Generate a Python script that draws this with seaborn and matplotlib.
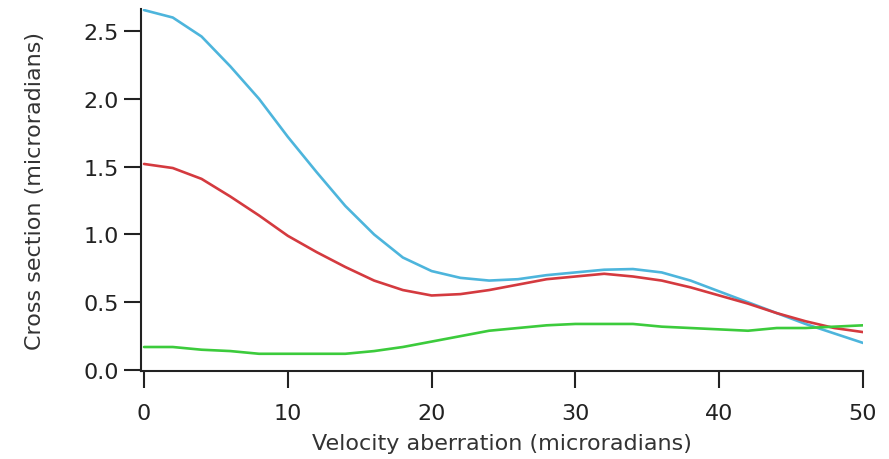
import numpy as np
import pandas as pd
import matplotlib
matplotlib.use("Agg")
import matplotlib.pyplot as plt
import seaborn as sns

x_vals = [0, 2, 4, 6, 8, 10, 12, 14, 16, 18, 20, 22, 24, 26, 28, 30, 32, 34, 36, 38, 40, 42, 44, 46, 48, 50]
blue_vals = [2.655, 2.60, 2.46, 2.24, 2.00, 1.72, 1.46, 1.21, 1.00, 0.83, 0.73, 0.68, 0.66, 0.67, 0.70, 0.72, 0.74, 0.745, 0.72, 0.66, 0.58, 0.50, 0.42, 0.34, 0.27, 0.20]
red_vals = [1.52, 1.49, 1.41, 1.28, 1.14, 0.99, 0.87, 0.76, 0.66, 0.59, 0.55, 0.56, 0.59, 0.63, 0.67, 0.69, 0.71, 0.69, 0.66, 0.61, 0.55, 0.49, 0.42, 0.36, 0.31, 0.28]
green_vals = [0.17, 0.17, 0.15, 0.14, 0.12, 0.12, 0.12, 0.12, 0.14, 0.17, 0.21, 0.25, 0.29, 0.31, 0.33, 0.34, 0.34, 0.34, 0.32, 0.31, 0.30, 0.29, 0.31, 0.31, 0.32, 0.33]
series_names = ["blue", "red", "green"]
colors = {"blue": "#4db5dc", "red": "#d43a3f", "green": "#3ccb3c"}

df = pd.concat([
    pd.DataFrame({"x": x_vals, "y": blue_vals, "s": "blue"}),
    pd.DataFrame({"x": x_vals, "y": red_vals, "s": "red"}),
    pd.DataFrame({"x": x_vals, "y": green_vals, "s": "green"}),
])

sns.set_style("ticks")
plt.rcParams['font.family'] = ['DejaVu Sans']

fig = plt.figure(figsize=(8.89, 4.60), dpi=100)
ax = fig.add_axes([0.1586, 0.1913, 0.9708 - 0.1586, 0.978 - 0.1913])
sns.lineplot(data=df, x="x", y="y", hue="s", hue_order=series_names, palette=colors,
             linewidth=1.9, legend=False, ax=ax)

ax.set_xlim(-0.21, 50)
ax.set_ylim(-0.007, 2.662)
ax.set_xticks([0, 10, 20, 30, 40, 50])
ax.set_yticks([0.0, 0.5, 1.0, 1.5, 2.0, 2.5])
ax.set_yticklabels(["0.0", "0.5", "1.0", "1.5", "2.0", "2.5"])
ax.tick_params(axis="both", direction="out", length=12, width=1.5, labelsize=16,
               colors="#222222")
ax.tick_params(axis="y", pad=4)
ax.tick_params(axis="x", pad=11)
for side in ["top", "right"]:
    ax.spines[side].set_visible(False)
for side in ["left", "bottom"]:
    ax.spines[side].set_linewidth(1.5)
    ax.spines[side].set_color("#222222")

ax.set_xlabel("Velocity aberration (microradians)", fontsize=16, color="#333333")
ax.set_ylabel("Cross section (microradians)", fontsize=16, color="#333333")
ax.xaxis.set_label_coords(0.5, -0.172)
ax.yaxis.set_label_coords(-0.133, 0.5)

fig.savefig("out.png", dpi=100)
